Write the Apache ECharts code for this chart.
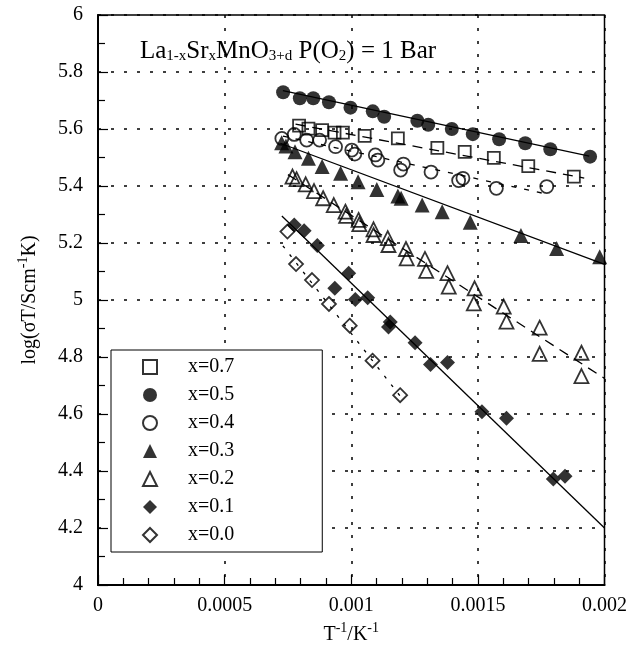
<!DOCTYPE html>
<html>
<head>
<meta charset="utf-8">
<script src="https://cdn.jsdelivr.net/npm/echarts@6/dist/echarts.min.js"></script>
<style>
  html, body { margin: 0; background: #fff; }
  #chart { width: 630px; height: 657px; }
</style>
</head>
<body>
<div id="chart"></div>
<script>
// values: [1/T (K^-1), log(sigma T)]
const x07 = [[0.000794,5.612],[0.000831,5.601],[0.000885,5.596],[0.000934,5.587],[0.000967,5.587],[0.001053,5.576],[0.001184,5.567],[0.001340,5.534],[0.001448,5.520],[0.001563,5.499],[0.001699,5.470],[0.001879,5.433]];
const x05 = [[0.000731,5.729],[0.000797,5.708],[0.000850,5.708],[0.000912,5.694],[0.000997,5.675],[0.001085,5.662],[0.001130,5.643],[0.001261,5.629],[0.001304,5.615],[0.001397,5.600],[0.001480,5.582],[0.001584,5.564],[0.001687,5.550],[0.001786,5.529],[0.001943,5.503]];
const x04 = [[0.000726,5.567],[0.000775,5.581],[0.000824,5.561],[0.000875,5.561],[0.000938,5.538],[0.001002,5.526],[0.001014,5.512],[0.001095,5.509],[0.001105,5.491],[0.001206,5.477],[0.001195,5.456],[0.001315,5.449],[0.001441,5.427],[0.001424,5.419],[0.001573,5.392],[0.001772,5.398]];
const x03 = [[0.000725,5.552],[0.000742,5.540],[0.000778,5.520],[0.000831,5.497],[0.000885,5.468],[0.000958,5.445],[0.001027,5.415],[0.001101,5.388],[0.001184,5.365],[0.001197,5.357],[0.001280,5.333],[0.001359,5.310],[0.001470,5.273],[0.001670,5.226],[0.001811,5.181],[0.001981,5.152]];
const x02 = [[0.000768,5.433],[0.000784,5.424],[0.000820,5.406],[0.000853,5.382],[0.000889,5.357],[0.000931,5.333],[0.000977,5.310],[0.000980,5.295],[0.001029,5.281],[0.001032,5.266],[0.001088,5.248],[0.001088,5.228],[0.001144,5.217],[0.001147,5.193],[0.001216,5.179],[0.001219,5.146],[0.001291,5.144],[0.001296,5.102],[0.001380,5.094],[0.001385,5.047],[0.001487,5.041],[0.001484,4.988],[0.001602,4.977],[0.001613,4.924],[0.001744,4.903],[0.001744,4.811],[0.001909,4.815],[0.001909,4.733]];
const x01 = [[0.000775,5.263],[0.000814,5.243],[0.000866,5.191],[0.000990,5.094],[0.000935,5.041],[0.001016,5.002],[0.001065,5.008],[0.001154,4.923],[0.001147,4.905],[0.001252,4.850],[0.001313,4.774],[0.001380,4.781],[0.001516,4.608],[0.001613,4.585],[0.001798,4.372],[0.001844,4.382]];
const x00 = [[0.000748,5.240],[0.000782,5.126],[0.000845,5.070],[0.000912,4.986],[0.000994,4.910],[0.001084,4.787],[0.001193,4.666]];

// fitted lines, end points
const fit07 = [[0.00078,5.617],[0.00192,5.428]];
const fit05 = [[0.00073,5.735],[0.00194,5.505]];
const fit04 = [[0.00073,5.575],[0.00178,5.37]];
const fit03 = [[0.00072,5.55],[0.002,5.125]];
const fit02 = [[0.00075,5.44],[0.002,4.725]];
const fit01 = [[0.000726,5.295],[0.002,4.2]];
const fit00 = [[0.00073,5.19],[0.0012,4.655]];

const names = ['x=0.7','x=0.5','x=0.4','x=0.3','x=0.2','x=0.1','x=0.0'];
const xTickLabels = ['0','0.0005','0.001','0.0015','0.002'];
const yTickLabels = ['4','4.2','4.4','4.6','4.8','5','5.2','5.4','5.6','5.8','6'];

const FONT = 'Liberation Serif';
const chart = echarts.init(document.getElementById('chart'));

function pts(name, data, symbol, size, filled) {
  return {
    name: name,
    type: 'scatter',
    data: data,
    symbol: symbol,
    symbolSize: size,
    itemStyle: filled ? {color: '#000'} : {color: 'rgba(255,255,255,0)', borderColor: '#000', borderWidth: 1.8},
    z: 3
  };
}
function fit(data, type) {
  return {
    type: 'line',
    data: data,
    symbol: 'none',
    silent: true,
    lineStyle: {color: '#000', width: 1.3, type: type},
    z: 2
  };
}

const dotted = {color: '#000', width: 1.5, type: [3, 10]};
// superscript: top aligned, bottom padding lifts it above the main text
const supStyle = {fontFamily: FONT, fontSize: 14, verticalAlign: 'top', padding: [0, 0, 14, 0]};

const option = {
  animation: false,
  backgroundColor: '#fff',
  grid: {left: 98, right: 22.5, top: 15, bottom: 72, show: true, borderColor: '#000', borderWidth: 1.5},
  graphic: [{
    type: 'text',
    left: 140,
    top: 39,
    style: {
      text: 'La{s|1-x}Sr{s|x}MnO{s|3+d} P(O{s|2}) = 1 Bar',
      fontFamily: FONT,
      fontSize: 25,
      fill: '#000',
      rich: {s: {fontFamily: FONT, fontSize: 15, verticalAlign: 'bottom'}}
    }
  }],
  legend: {
    data: names,
    orient: 'vertical',
    left: 111,
    top: 350,
    itemWidth: 14,
    itemHeight: 14,
    itemGap: 8,
    padding: [7, 88, 7, 31],
    borderColor: '#000',
    borderWidth: 1,
    borderRadius: 0,
    backgroundColor: '#fff',
    selectedMode: false,
    textStyle: {fontFamily: FONT, fontSize: 20, color: '#000', lineHeight: 20, padding: [0, 0, 0, 26]}
  },
  xAxis: {
    type: 'value',
    min: 0,
    max: 0.002,
    interval: 0.0005,
    name: 'T{sup|-1}/K{sup|-1}',
    nameLocation: 'middle',
    nameGap: 36,
    nameTextStyle: {fontFamily: FONT, fontSize: 20, color: '#000', rich: {sup: supStyle}},
    axisLine: {lineStyle: {color: '#000', width: 2}},
    axisTick: {inside: true, length: 10, lineStyle: {color: '#000', width: 1.2}},
    minorTick: {show: true, splitNumber: 5, length: 7, lineStyle: {color: '#000', width: 1.2}},
    splitLine: {show: true, lineStyle: dotted},
    axisLabel: {
      fontFamily: FONT, fontSize: 20, color: '#000', margin: 11,
      formatter: (v, i) => xTickLabels[i]
    }
  },
  yAxis: {
    type: 'value',
    min: 4,
    max: 6,
    interval: 0.2,
    name: 'log(σT/Scm{sup|-1}K)',
    nameLocation: 'middle',
    nameGap: 54,
    nameRotate: 90,
    nameTextStyle: {fontFamily: FONT, fontSize: 20, color: '#000', rich: {sup: supStyle}},
    axisLine: {lineStyle: {color: '#000', width: 2}},
    axisTick: {inside: true, length: 10, lineStyle: {color: '#000', width: 1.2}},
    minorTick: {show: true, splitNumber: 2, length: 7, lineStyle: {color: '#000', width: 1.2}},
    splitLine: {show: true, lineStyle: dotted},
    axisLabel: {
      fontFamily: FONT, fontSize: 20, color: '#000', margin: 15,
      formatter: (v, i) => yTickLabels[i]
    }
  },
  series: [
    fit(fit07, [10, 7]),
    fit(fit05, 'solid'),
    fit(fit04, [5, 8]),
    fit(fit03, 'solid'),
    fit(fit02, [10, 7]),
    fit(fit01, 'solid'),
    fit(fit00, [3, 8]),
    pts(names[0], x07, 'rect', 12, false),
    pts(names[1], x05, 'circle', 14, true),
    pts(names[2], x04, 'circle', 13, false),
    pts(names[3], x03, 'triangle', 15, true),
    pts(names[4], x02, 'triangle', 14, false),
    pts(names[5], x01, 'diamond', 15, true),
    pts(names[6], x00, 'diamond', 14, false)
  ]
};
chart.setOption(option);
</script>
</body>
</html>
